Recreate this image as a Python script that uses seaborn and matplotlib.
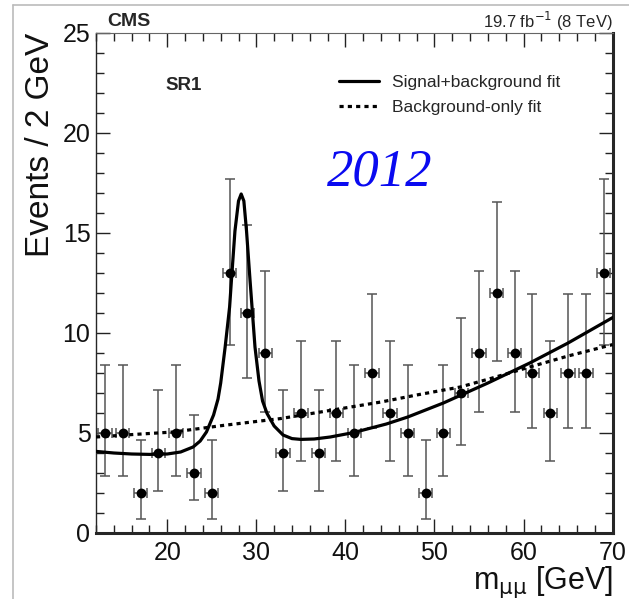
import matplotlib
matplotlib.use('Agg')
import matplotlib.pyplot as plt
import numpy as np
import pandas as pd
import seaborn as sns

from matplotlib.lines import Line2D
from matplotlib.ticker import MultipleLocator

# -----------------------------------------------------------------------------
#         Data
# -----------------------------------------------------------------------------
mass = [13, 15, 17, 19, 21, 23, 25, 27, 29, 31, 33, 35, 37, 39, 41,
        43, 45, 47, 49, 51, 53, 55, 57, 59, 61, 63, 65, 67, 69]
counts = [5, 5, 2, 4, 5, 3, 2, 13, 11, 9, 4, 6, 4, 6, 5,
          8, 6, 5, 2, 5, 7, 9, 12, 9, 8, 6, 8, 8, 13]

# lower / upper end of the error bar for each count level
bar_low = {2: 0.71, 3: 1.63, 4: 2.09, 5: 2.84, 6: 3.62, 7: 4.42, 8: 5.23,
           9: 6.06, 11: 7.74, 12: 8.59, 13: 9.42}
bar_high = {2: 4.64, 3: 5.92, 4: 7.16, 5: 8.38, 6: 9.58, 7: 10.77, 8: 11.95,
            9: 13.11, 11: 15.42, 12: 16.57, 13: 17.71}

# signal + background fit curve
sb_x = [12.0, 14.0, 16.0, 18.0, 20.0, 21.5, 22.9, 23.7, 24.4, 25.2, 25.7,
        26.0, 26.5, 27.0, 27.2, 27.6, 28.0, 28.3, 28.6, 28.9, 29.3, 29.6,
        29.85, 30.3, 30.7, 31.2, 32.0, 33.0, 34.0, 35.0, 36.5, 38.3, 40.9,
        44.6, 47.0, 51.0, 53.0, 56.0, 60.7, 65.0, 70.0]
sb_y = [4.08, 4.0, 3.95, 3.93, 3.95, 4.05, 4.3, 4.6, 5.05, 5.9, 6.7,
        7.5, 9.3, 11.3, 12.6, 15.1, 16.6, 16.95, 16.6, 15.1, 12.6, 10.8,
        9.3, 7.6, 6.6, 5.98, 5.35, 4.9, 4.72, 4.68, 4.7, 4.8, 5.02,
        5.45, 5.8, 6.5, 6.9, 7.5, 8.5, 9.5, 10.77]

# background-only fit curve
b_x = [12.0, 16.0, 20.7, 26.3, 32.7, 38.3, 44.0, 48.0, 52.9, 56.5, 60.7,
       65.0, 70.0]
b_y = [4.8, 4.92, 5.05, 5.38, 5.72, 6.13, 6.55, 6.9, 7.3, 7.75, 8.3,
       8.85, 9.42]

df = pd.DataFrame({'mass': mass, 'events': counts})
df['lo'] = df['events'] - df['events'].map(bar_low)
df['hi'] = df['events'].map(bar_high) - df['events']

# -----------------------------------------------------------------------------
#         Plot
# -----------------------------------------------------------------------------
sns.set_style('ticks')
plt.rcParams['font.family'] = ['Liberation Sans', 'DejaVu Sans']
plt.rcParams['mathtext.fontset'] = 'dejavusans'

W, H = 629, 599
fig = plt.figure(figsize=(W / 100, H / 100), dpi=100)
fig.patch.set_facecolor('white')
ax = fig.add_axes([96 / W, 1 - 533 / H, (612.6 - 96) / W, 500 / H])

ax.errorbar(df['mass'], df['events'], yerr=[df['lo'], df['hi']], xerr=0.75,
            fmt='none', ecolor='#555555', elinewidth=1.1, capsize=3.5,
            capthick=1.1, zorder=2)
sns.scatterplot(data=df, x='mass', y='events', color='black', s=50,
                edgecolor='black', linewidth=0, zorder=3, ax=ax)
sns.lineplot(x=sb_x, y=sb_y, color='black', lw=2.3, sort=False,
             label='Signal+background fit', zorder=4, ax=ax)
sns.lineplot(x=b_x, y=b_y, color='black', lw=2.3, sort=False,
             label='Background-only fit', zorder=4, ax=ax)
ax.lines[-1].set_dashes((1.3, 1.3))

ax.set_xlim(12, 70)
ax.set_ylim(0, 25)
ax.xaxis.set_major_locator(MultipleLocator(10))
ax.xaxis.set_minor_locator(MultipleLocator(2))
ax.yaxis.set_major_locator(MultipleLocator(5))
ax.yaxis.set_minor_locator(MultipleLocator(1))
ax.set_xticks([20, 30, 40, 50, 60, 70])
ax.tick_params(which='both', direction='in', top=True, right=True,
               color='#222222', width=1.0, labelsize=18, labelcolor='#111111')
ax.tick_params(which='major', length=10)
ax.tick_params(which='minor', length=5.5)
ax.tick_params(axis='x', pad=6)
ax.tick_params(axis='y', pad=4)

ax.spines['left'].set_linewidth(1.0)
ax.spines['top'].set_linewidth(0.8)
ax.spines['top'].set_color('#666666')
ax.spines['right'].set_linewidth(2.2)
ax.spines['bottom'].set_linewidth(2.2)

ax.set_xlabel(r'm$_{\mathrm{\mu\mu}}$ [GeV]', fontsize=22, ha='right',
              color='#111111')
ax.xaxis.set_label_coords(1.0, -0.062)
ax.set_ylabel('Events / 2 GeV', fontsize=24, ha='right', color='#111111')
ax.yaxis.set_label_coords(-0.078, 1.0)

ax.legend(loc='upper left', frameon=False, fontsize=12.5, borderpad=0,
          handlelength=2.3, handletextpad=0.8, labelspacing=0.6,
          bbox_to_anchor=(330 / W, 1 - 66 / H), bbox_transform=fig.transFigure)

fig.text(107 / W, 1 - 21 / H, 'CMS', fontsize=14, fontweight='bold',
         va='center', ha='left')
fig.text(612.6 / W, 1 - 21 / H, r'19.7 fb$^{-1}$ (8 TeV)', fontsize=12,
         va='center', ha='right')
fig.text(165 / W, 1 - 85 / H, 'SR1', fontsize=13.5, fontweight='bold',
         va='center', ha='left')
fig.text(380 / W, 1 - 172 / H, '2012', fontsize=38, color='#0a0af0',
         family='Liberation Serif', style='italic', va='center', ha='center')

# light frame around the picture
fig.add_artist(Line2D([13 / W, 13 / W], [0, 1 - 5 / H], color='#bbbbbb',
                      lw=1.2, transform=fig.transFigure))
fig.add_artist(Line2D([13 / W, 1], [1 - 5 / H, 1 - 5 / H], color='#bbbbbb',
                      lw=1.2, transform=fig.transFigure))

fig.savefig('out.png', dpi=100)
